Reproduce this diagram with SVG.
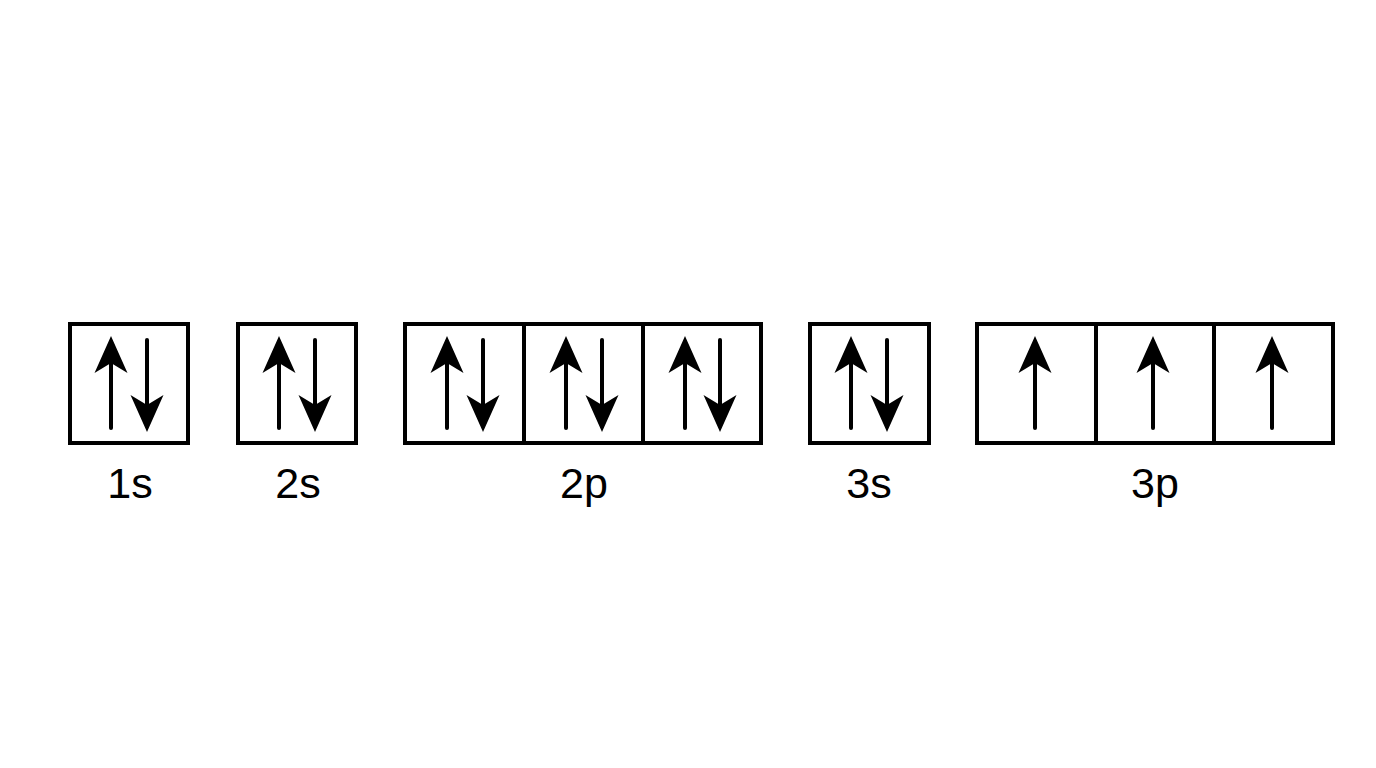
<svg xmlns="http://www.w3.org/2000/svg" xmlns:xlink="http://www.w3.org/1999/xlink" width="1376" height="768" viewBox="0 0 1376 768">
<style>
.box{fill:none;stroke:#000;stroke-width:4}
.shaft{stroke:#000;stroke-width:4;stroke-linecap:round}
.head{fill:#000}
.lbl{font-family:"Liberation Sans",Arial,sans-serif;font-size:43px;fill:#000;text-anchor:middle}
</style>
<defs>
<g id="up">
<line class="shaft" x1="0" y1="362" x2="0" y2="428"/>
<path class="head" d="M0,336 L16.5,373 L0,363 L-16.5,373 Z"/>
</g>
<g id="down">
<line class="shaft" x1="0" y1="340" x2="0" y2="406"/>
<path class="head" d="M0,432 L16.5,395 L0,405 L-16.5,395 Z"/>
</g>
</defs>
<rect width="1376" height="768" fill="#fff"/>
<g id="orbital-1s">
<rect class="box" x="70" y="324" width="118" height="119"/>
<use xlink:href="#up" x="111"/>
<use xlink:href="#down" x="147"/>
<text class="lbl" x="130" y="498">1s</text>
</g>
<g id="orbital-2s">
<rect class="box" x="238" y="324" width="118" height="119"/>
<use xlink:href="#up" x="279"/>
<use xlink:href="#down" x="315"/>
<text class="lbl" x="298" y="498">2s</text>
</g>
<g id="orbital-2p">
<rect class="box" x="405" y="324" width="356" height="119"/>
<line class="box" x1="524" y1="324" x2="524" y2="443"/>
<line class="box" x1="643" y1="324" x2="643" y2="443"/>
<use xlink:href="#up" x="447"/>
<use xlink:href="#down" x="483"/>
<use xlink:href="#up" x="566"/>
<use xlink:href="#down" x="602"/>
<use xlink:href="#up" x="685"/>
<use xlink:href="#down" x="720"/>
<text class="lbl" x="584" y="498">2p</text>
</g>
<g id="orbital-3s">
<rect class="box" x="810" y="324" width="119" height="119"/>
<use xlink:href="#up" x="851"/>
<use xlink:href="#down" x="887"/>
<text class="lbl" x="869" y="498">3s</text>
</g>
<g id="orbital-3p">
<rect class="box" x="977" y="324" width="356" height="119"/>
<line class="box" x1="1096" y1="324" x2="1096" y2="443"/>
<line class="box" x1="1214" y1="324" x2="1214" y2="443"/>
<use xlink:href="#up" x="1035"/>
<use xlink:href="#up" x="1153"/>
<use xlink:href="#up" x="1272"/>
<text class="lbl" x="1155" y="498">3p</text>
</g>
<g id="connectors"/>
</svg>
